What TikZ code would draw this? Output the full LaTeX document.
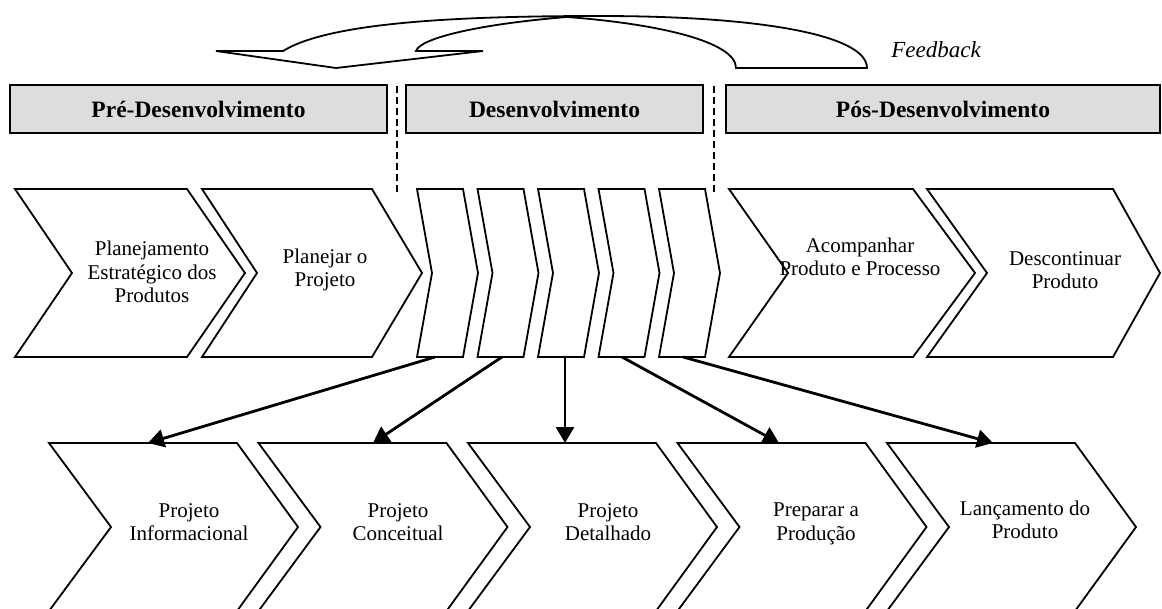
\documentclass[tikz,border=0pt]{standalone}
\usepackage{fontspec}
\setmainfont{Liberation Serif}
\usetikzlibrary{arrows.meta}
\definecolor{hdrgray}{RGB}{221,221,221}
\tikzset{
  chevline/.style={draw=black, line width=1.8pt, line join=miter},
  hdrbox/.style={draw=black, fill=hdrgray, line width=1.8pt, inner sep=0pt,
     font=\fontsize{23.5}{28}\selectfont\bfseries},
  lbl/.style={align=center, font=\fontsize{21}{23.5}\selectfont, inner sep=0pt},
  divline/.style={line width=2.8pt, dash pattern=on 7pt off 4pt},
  flow/.style={line width=2.8pt, -{Triangle[length=16pt,width=18pt]}},
  fbshape/.style={draw=black, line width=1.8pt, line join=miter},
  fbtext/.style={font=\fontsize{23}{27}\selectfont\itshape, inner sep=0pt},
}
\newcommand{\chv}[7]{\draw[chevline] (#1,#5) -- (#2,#5) -- ({#2+#4},#6) -- (#2,#7) -- (#1,#7) -- ({#1+#3},#6) -- cycle;}
\begin{document}
\begin{tikzpicture}[x=1pt,y=-1pt]
\useasboundingbox (0,0) rectangle (1162,608);
\clip (0,0) rectangle (1162,608);

% feedback arrow
\draw[fbshape] (283,51) .. controls (330,22) and (460,16) .. (600,16)
  .. controls (760,16) and (867,35) .. (867,68) -- (736,68)
  .. controls (736,42) and (660,24) .. (567,17)
  .. controls (480,24) and (420,38) .. (416,51)
  -- (483,51) -- (336,68) -- (216,51) -- cycle;
\node[fbtext] (fb) at (936,50) {Feedback};

% headers
\node[hdrbox, minimum width=377pt, minimum height=48pt] (hpre) at (198.5,109) {Pré-Desenvolvimento};
\node[hdrbox, minimum width=297pt, minimum height=48pt] (hdev) at (554.5,109) {Desenvolvimento};
\node[hdrbox, minimum width=434pt, minimum height=48pt] (hpos) at (943,109) {Pós-Desenvolvimento};

% dividers
\coordinate (d1a) at (397,86); \coordinate (d1b) at (397,193);
\coordinate (d2a) at (714,86); \coordinate (d2b) at (714,193);
\draw[divline] (d1a) -- (d1b);
\draw[divline] (d2a) -- (d2b);

% top row chevrons
\chv{15}{187}{57}{58}{189}{273}{357}
\chv{202}{372}{55}{50}{189}{273}{357}
\foreach \i in {0,...,4}{
  \pgfmathsetmacro\xl{417+60.5*\i}
  \pgfmathsetmacro\xr{\xl+46}
  \chv{\xl}{\xr}{15}{15}{189}{273}{357}
}
\chv{729}{913}{59}{62}{189}{273}{357}
\chv{927}{1113}{60}{47}{189}{273}{357}

\node[lbl] (c1) at (152,272) {Planejamento\\Estratégico dos\\Produtos};
\node[lbl] (c2) at (325,270) {Planejar o\\Projeto};
\node[lbl] (c3) at (860,257) {Acompanhar\\Produto e Processo};
\node[lbl] (c4) at (1065,270) {Descontinuar\\Produto};

% bottom row chevrons
\foreach \i in {0,...,4}{
  \pgfmathsetmacro\xl{49+209.5*\i}
  \pgfmathsetmacro\xr{\xl+188}
  \chv{\xl}{\xr}{62}{61}{443}{527}{611}
}
\node[lbl] (b1) at (189,522) {Projeto\\Informacional};
\node[lbl] (b2) at (398,522) {Projeto\\Conceitual};
\node[lbl] (b3) at (608,522) {Projeto\\Detalhado};
\node[lbl] (b4) at (816,524) {Preparar a\\Produção};
\node[lbl] (b5) at (1025,520) {Lançamento do\\Produto};

% arrows
\coordinate (s1) at (435,357); \coordinate (t1) at (148,443);
\coordinate (s2) at (502,357); \coordinate (t2) at (373,443);
\coordinate (s3) at (565,357); \coordinate (t3) at (565,443);
\coordinate (s4) at (622,357); \coordinate (t4) at (779,443);
\coordinate (s5) at (683,357); \coordinate (t5) at (993,443);
\draw[flow] (s1) -- (t1);
\draw[flow] (s2) -- (t2);
\draw[flow] (s3) -- (t3);
\draw[flow] (s4) -- (t4);
\draw[flow] (s5) -- (t5);
\end{tikzpicture}
\end{document}
